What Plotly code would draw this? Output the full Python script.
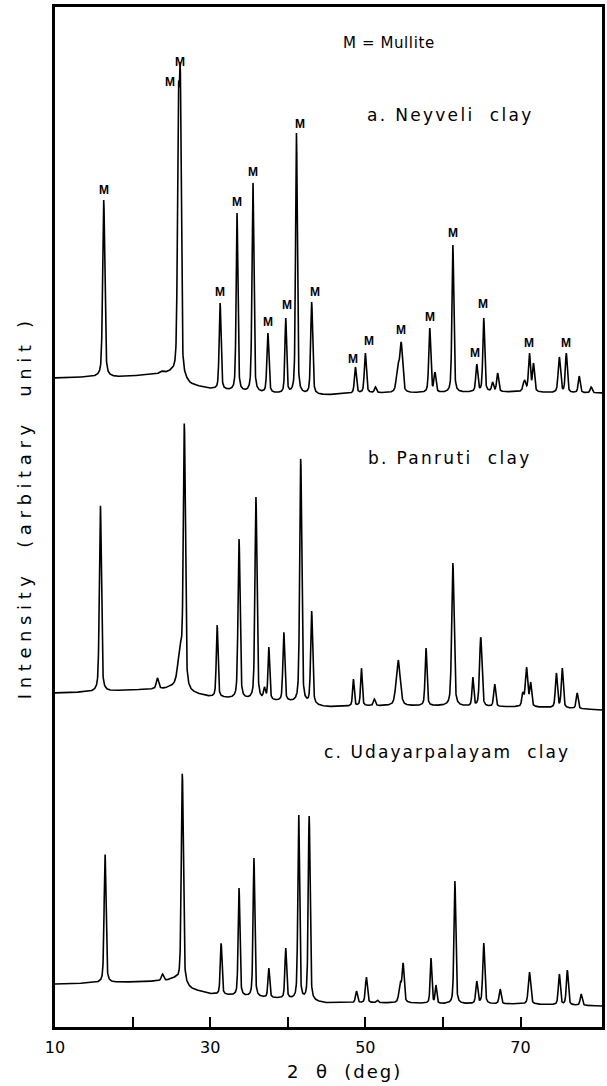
import numpy as np
import plotly.graph_objects as go

# ---------------- data ----------------
# x: 2-theta (deg); y: intensity (arbitrary units, curves stacked as drawn)
X_RANGE = [10, 80.5]
Y_RANGE = [0, 1020]
x_tickvals = [10, 20, 30, 40, 50, 60, 70]
x_ticktext = ["10", "", "30", "", "50", "", "70"]

# a. Neyveli clay
a_base_x = [10, 15, 18, 22, 25, 27.5, 30, 35, 40, 45, 50, 55, 60, 65, 70, 75, 80.5]
a_base_y = [649, 650, 650, 652, 654, 642, 638, 634, 633, 632, 634, 634, 634, 635, 635, 634, 634]
a_pos = [16.28, 23.8, 25.9, 26.15, 31.28, 33.46, 35.51, 37.44, 39.74, 41.12, 43.08,
         48.72, 50.0, 51.3, 54.2, 54.62, 58.3, 58.97, 61.28, 64.36, 65.26, 66.4, 67.05,
         70.5, 71.15, 71.67, 75.0, 75.9, 77.56, 79.1]
a_top = [827, 656, 939, 960, 724, 814, 845, 694, 709, 894, 725,
         660, 674, 640, 664, 685, 699, 655, 782, 663, 709, 645, 654,
         647, 674, 664, 670, 674, 651, 640]
a_fwhm = [0.32, 0.5, 0.28, 0.28, 0.28, 0.26, 0.28, 0.3, 0.26, 0.26, 0.3,
          0.3, 0.3, 0.3, 0.45, 0.4, 0.3, 0.3, 0.28, 0.3, 0.28, 0.3, 0.3,
          0.4, 0.3, 0.3, 0.35, 0.3, 0.3, 0.3]
a_M_x = [16.28, 26.15, 24.87, 31.28, 33.46, 35.51, 37.44, 39.87, 41.54, 43.46,
         48.46, 50.51, 54.62, 58.33, 61.28, 64.10, 65.13, 71.15, 75.90]
a_M_y = [837, 965, 945, 735, 825, 855, 705, 722, 903, 735,
         668, 686, 697, 710, 794, 674, 723, 684, 684]

# b. Panruti clay
b_base_x = [10, 15, 20, 24, 25.5, 27.5, 30, 35, 40, 45, 50, 55, 60, 65, 70, 75, 80.5]
b_base_y = [334, 335, 337, 338, 340, 334, 330, 327, 325, 320, 321, 321, 321, 320, 320, 319, 317]
b_pos = [15.85, 23.2, 26.15, 26.67, 30.9, 33.72, 35.9, 37.0, 37.56, 39.49, 41.67, 43.08,
         48.46, 49.49, 51.15, 54.23, 57.82, 61.28, 63.85, 64.87, 66.67, 70.3, 70.77,
         71.3, 74.62, 75.38, 77.3]
b_top = [522, 349, 385, 604, 402, 488, 530, 340, 380, 395, 569, 416,
         348, 359, 328, 367, 379, 464, 350, 390, 343, 335, 360,
         345, 354, 359, 334]
b_fwhm = [0.3, 0.35, 0.7, 0.3, 0.26, 0.3, 0.3, 0.3, 0.26, 0.28, 0.3, 0.3,
          0.25, 0.25, 0.3, 0.6, 0.28, 0.35, 0.25, 0.35, 0.3, 0.3, 0.35,
          0.3, 0.3, 0.3, 0.3]

# c. Udayarpalayam clay
c_base_x = [10, 15, 20, 24, 25.5, 27.5, 30, 35, 40, 45, 50, 55, 60, 65, 70, 75, 80.5]
c_base_y = [43, 44, 45, 46, 48, 38, 33, 30, 28, 24, 24, 24, 23, 23, 23, 22, 21]
c_pos = [16.45, 23.85, 26.41, 31.41, 33.72, 35.64, 37.56, 39.74, 41.41, 42.76,
         48.85, 50.13, 51.54, 54.5, 54.87, 58.46, 59.1, 61.54, 64.36, 65.26, 67.37,
         71.15, 75.0, 76.03, 77.82]
c_top = [173, 53, 254, 84, 139, 169, 59, 79, 213, 211,
         36, 50, 27, 45, 64, 69, 42, 146, 46, 84, 38,
         55, 53, 57, 33]
c_fwhm = [0.28, 0.35, 0.3, 0.26, 0.26, 0.26, 0.26, 0.26, 0.26, 0.28,
          0.3, 0.3, 0.3, 0.4, 0.3, 0.25, 0.25, 0.28, 0.3, 0.3, 0.3,
          0.35, 0.3, 0.3, 0.3]

curve_labels = ["a. Neyveli  clay", "b. Panruti  clay", "c. Udayarpalayam  clay"]

# ---------------- build profiles from the peak lists ----------------
grid = np.arange(X_RANGE[0], X_RANGE[1] + 1e-9, 0.02)


def pv(x, x0, w, eta=0.45):
    u = ((x - x0) / (w / 2.0)) ** 2
    return eta / (1.0 + u) + (1 - eta) * np.exp(-np.log(2) * u)


def pattern(bx, by, pos, top, fw):
    pos = np.asarray(pos, float)
    top = np.asarray(top, float)
    fw = np.asarray(fw, float)
    base_at = np.interp(pos, bx, by)
    M = np.array([[pv(pi, pj, wj) for pj, wj in zip(pos, fw)] for pi in pos])
    amp = np.linalg.solve(M, top - base_at)
    amp = np.clip(amp, 0, None)
    y = np.interp(grid, bx, by).astype(float)
    for p, a, w in zip(pos, amp, fw):
        y += a * pv(grid, p, w)
    return y


ya = pattern(a_base_x, a_base_y, a_pos, a_top, a_fwhm)
yb = pattern(b_base_x, b_base_y, b_pos, b_top, b_fwhm)
yc = pattern(c_base_x, c_base_y, c_pos, c_top, c_fwhm)

fig = go.Figure()
for y in (ya, yb, yc):
    fig.add_trace(go.Scatter(x=grid, y=y, mode="lines",
                             line=dict(color="black", width=1.6),
                             hoverinfo="skip", showlegend=False))

FONT = "DejaVu Sans"

# plot area in window pixels (page body margin removed in post_script)
PL, PR, PT, PB = 55.0, 605.0, 7.0, 1027.0


def px(xp):
    return (xp - PL) / (PR - PL)


def py(yp):
    return (PB - yp) / (PB - PT)


annotations = []
for mx, my in zip(a_M_x, a_M_y):
    annotations.append(dict(x=mx, y=my, xref="x", yref="y", text="<b>M</b>",
                            showarrow=False,
                            font=dict(family="Liberation Sans", size=12, color="black"),
                            xanchor="center", yanchor="middle"))


def spaced(t, ls):
    return '<span style="letter-spacing:%spx">%s</span>' % (ls, t)


def txt(x, y, t, size, ls, angle=0):
    return dict(x=px(x), y=py(y), xref="paper", yref="paper", text=spaced(t, ls),
                showarrow=False, textangle=angle, xanchor="center", yanchor="middle",
                font=dict(family=FONT, size=size, color="black"))


annotations += [
    txt(391, 43, "M = Mullite", 15, 0.6),
    txt(453, 115, curve_labels[0], 17, 2.3),
    txt(452, 458, curve_labels[1], 17, 2.3),
    txt(449, 752, curve_labels[2], 17, 2.1),
    txt(24, 507, "Intensity  (arbitary  unit )", 18, 5.6, angle=-90),
    txt(346, 1071, "2  θ  (deg)", 18, 2),
]

fig.update_layout(
    width=607, height=1086,
    margin=dict(l=55, r=2, t=7, b=59),
    paper_bgcolor="white", plot_bgcolor="white",
    annotations=annotations,
    hovermode=False,
)
fig.update_xaxes(range=X_RANGE, tickvals=x_tickvals, ticktext=x_ticktext,
                 ticks="inside", ticklen=10, tickwidth=2, tickcolor="black",
                 showline=True, linewidth=3, linecolor="black", mirror=True,
                 showgrid=False, zeroline=False, ticklabelstandoff=4,
                 tickfont=dict(family=FONT, size=16, color="black"))
fig.update_yaxes(range=Y_RANGE, showticklabels=False, ticks="",
                 showline=True, linewidth=3, linecolor="black", mirror=True,
                 showgrid=False, zeroline=False)

fig.write_html(
    "out.html",
    config={"displayModeBar": False},
    post_script="document.body.style.margin='0';document.body.style.overflow='hidden';",
)
